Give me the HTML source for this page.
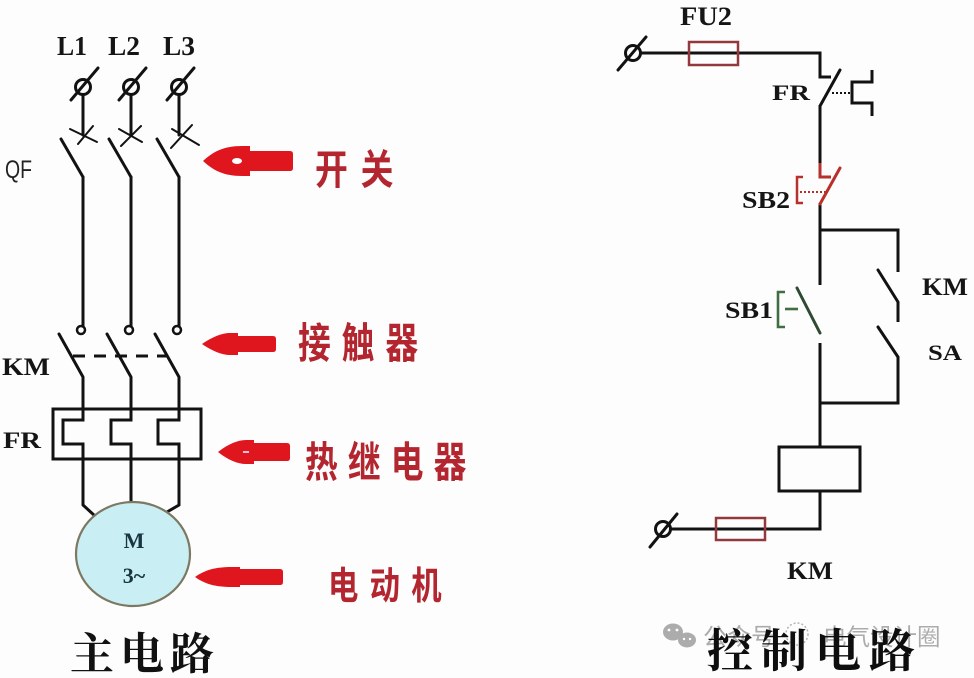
<!DOCTYPE html>
<html>
<head>
<meta charset="utf-8">
<style>
html,body{margin:0;padding:0;background:#fff;}
svg{display:block;}
.ser{font-family:"Liberation Serif","Noto Serif CJK SC",serif;font-weight:bold;fill:#151515;}
.red{font-family:"Liberation Sans","Noto Sans CJK SC",sans-serif;font-weight:bold;fill:#b3262f;}
</style>
</head>
<body>
<svg width="974" height="678" viewBox="0 0 974 678" xmlns="http://www.w3.org/2000/svg">
<rect width="974" height="678" fill="#fdfdfd"/>

<!-- ============ MAIN CIRCUIT (left) ============ -->
<g fill="none" stroke="#121212" stroke-width="3" stroke-linecap="round">
  <circle cx="83" cy="87" r="7.5"/>
  <circle cx="131" cy="87" r="7.5"/>
  <circle cx="179" cy="87" r="7.5"/>
  <line x1="71" y1="100" x2="98" y2="68"/>
  <line x1="119" y1="100" x2="146" y2="68"/>
  <line x1="167" y1="100" x2="194" y2="68"/>
  <line x1="83" y1="95" x2="83" y2="135"/>
  <line x1="131" y1="95" x2="131" y2="135"/>
  <line x1="179" y1="95" x2="179" y2="135"/>
</g>
<g fill="none" stroke="#121212" stroke-width="2" stroke-linecap="round">
  <line x1="70" y1="129" x2="97" y2="142"/>
  <line x1="78" y1="144" x2="93" y2="126"/>
  <line x1="119" y1="129" x2="142" y2="142"/>
  <line x1="121" y1="146" x2="141" y2="126"/>
  <line x1="172" y1="129" x2="199" y2="145"/>
  <line x1="171" y1="148" x2="192" y2="125"/>
</g>
<g fill="none" stroke="#121212" stroke-width="3" stroke-linecap="round">
  <line x1="61" y1="139" x2="83" y2="177"/>
  <line x1="109" y1="139" x2="131" y2="177"/>
  <line x1="157" y1="139" x2="179" y2="177"/>
  <line x1="83" y1="177" x2="83" y2="326"/>
  <line x1="131" y1="177" x2="131" y2="326"/>
  <line x1="179" y1="177" x2="179" y2="326"/>
</g>
<g fill="none" stroke="#121212" stroke-width="2.5">
  <circle cx="81" cy="330" r="4"/>
  <circle cx="129" cy="330" r="4"/>
  <circle cx="177" cy="330" r="4"/>
</g>
<g fill="none" stroke="#121212" stroke-width="3" stroke-linecap="round">
  <line x1="59" y1="334" x2="83" y2="377"/>
  <line x1="107" y1="334" x2="131" y2="377"/>
  <line x1="155" y1="334" x2="179" y2="377"/>
  <path d="M83,377 V420 H63 V444 H83 V505 L95,516" stroke-linejoin="miter" stroke-linecap="butt"/>
  <path d="M131,377 V420 H111 V444 H131 V502" stroke-linejoin="miter" stroke-linecap="butt"/>
  <path d="M179,377 V420 H158 V444 H179 V505 L167,512" stroke-linejoin="miter" stroke-linecap="butt"/>
</g>
<line x1="73" y1="356" x2="168" y2="356" stroke="#121212" stroke-width="3" stroke-dasharray="12,9"/>
<rect x="53" y="409" width="148" height="50" fill="none" stroke="#121212" stroke-width="3"/>

<!-- Motor -->
<ellipse cx="133" cy="554" rx="57" ry="52" fill="#c9eef4" stroke="#7d7862" stroke-width="2.2"/>
<text x="134" y="548" class="ser" font-size="22" text-anchor="middle" style="fill:#1a3440">M</text>
<text x="134" y="583" class="ser" font-size="22" text-anchor="middle" style="fill:#1a3440">3~</text>

<!-- left labels -->
<text x="57" y="55" class="ser" font-size="27" textLength="30" lengthAdjust="spacingAndGlyphs">L1</text>
<text x="108" y="55" class="ser" font-size="27" textLength="32" lengthAdjust="spacingAndGlyphs">L2</text>
<text x="163" y="55" class="ser" font-size="27" textLength="32" lengthAdjust="spacingAndGlyphs">L3</text>
<text x="5" y="178" font-family="Liberation Sans, sans-serif" font-size="25" fill="#222" textLength="27" lengthAdjust="spacingAndGlyphs">QF</text>
<text x="2" y="375" class="ser" font-size="25" textLength="48" lengthAdjust="spacingAndGlyphs">KM</text>
<text x="3" y="448" class="ser" font-size="23" textLength="38" lengthAdjust="spacingAndGlyphs">FR</text>

<!-- red arrows -->
<g fill="#e0161e">
  <path d="M203,161 C213,152 223,146 242,146 L250,146 L250,151 L290,151 Q293,151 293,154 L293,168 Q293,171 290,171 L250,171 L250,176 L242,176 C223,176 213,170 203,161 Z"/>
  <path d="M202,344 C212,337 222,333 230,333 L238,333 L238,336 L273,336 Q276,336 276,339 L276,349 Q276,352 273,352 L238,352 L238,355 L230,355 C222,355 212,351 202,344 Z"/>
  <path d="M218,452 C228,444 238,440 246,440 L254,440 L254,443 L287,443 Q290,443 290,446 L290,458 Q290,461 287,461 L254,461 L254,464 L246,464 C238,464 228,460 218,452 Z"/>
  <path d="M195,577 C205,570 215,567 232,567 L240,567 L240,569 L280,569 Q283,569 283,572 L283,582 Q283,585 280,585 L240,585 L240,587 L232,587 C215,587 205,584 195,577 Z"/>
</g>
<ellipse cx="237" cy="161" rx="5" ry="3" fill="#fff"/>
<rect x="243" y="451" width="6" height="2" fill="#fbd"/>

<!-- red labels (condensed) -->
<text transform="translate(315,184) scale(0.8,1)" class="red" font-size="41" letter-spacing="16">开关</text>
<text transform="translate(298,358) scale(0.78,1)" class="red" font-size="42" letter-spacing="14">接触器</text>
<text transform="translate(305,477) scale(0.78,1)" class="red" font-size="42" letter-spacing="13">热继电器</text>
<text transform="translate(328,599) scale(0.8,1)" class="red" font-size="38" letter-spacing="14">电动机</text>

<!-- left title -->
<text x="70" y="669" font-family="Liberation Serif, 'Noto Serif CJK SC', serif" font-weight="bold" font-size="44" letter-spacing="6" fill="#111">主电路</text>

<!-- ============ CONTROL CIRCUIT (right) ============ -->
<g fill="none" stroke="#121212" stroke-width="3" stroke-linecap="butt" stroke-linejoin="miter">
  <circle cx="633" cy="53" r="7.5"/>
  <line x1="618" y1="70" x2="646" y2="37" stroke-linecap="round"/>
  <path d="M641,53 H820 V77 H831"/>
  <line x1="840" y1="70" x2="820" y2="106" stroke-linecap="round"/>
  <line x1="820" y1="105" x2="820" y2="163"/>
  <path d="M872,70 V82 H852 V103 H872 V116"/>
  <path d="M820,203 V285"/>
  <path d="M820,230 H898 V272"/>
  <path d="M898,302 V322"/>
  <path d="M898,357 V403 H820"/>
  <path d="M820,343 V447"/>
  <line x1="878" y1="270" x2="898" y2="302" stroke-linecap="round"/>
  <line x1="878" y1="327" x2="898" y2="357" stroke-linecap="round"/>
  <rect x="779" y="447" width="81" height="44"/>
  <path d="M820,491 V529 H671"/>
  <circle cx="663" cy="529" r="7.5"/>
  <line x1="650" y1="547" x2="677" y2="514" stroke-linecap="round"/>
</g>
<line x1="832" y1="93" x2="851" y2="93" stroke="#121212" stroke-width="2" stroke-dasharray="2,2"/>

<!-- SB2 (red) -->
<g fill="none" stroke="#b8302c" stroke-width="3" stroke-linecap="butt">
  <path d="M820,163 V177 H831"/>
  <line x1="840" y1="168" x2="820" y2="204" stroke-linecap="round"/>
  <path d="M803,177 H797 V203 H803" stroke-width="2.5"/>
</g>
<line x1="800" y1="192" x2="826" y2="192" stroke="#b8302c" stroke-width="2" stroke-dasharray="2,2"/>

<!-- SB1 (green) -->
<g fill="none" stroke="#3f6e42" stroke-width="2.6">
  <path d="M785,292 H778 V327 H785"/>
  <line x1="785" y1="309" x2="798" y2="309"/>
</g>
<line x1="797" y1="288" x2="820" y2="333" stroke="#2f4a33" stroke-width="3" stroke-linecap="round"/>

<!-- fuses -->
<rect x="689" y="42" width="49" height="23" fill="none" stroke="#93393d" stroke-width="2.5"/>
<rect x="716" y="518" width="49" height="22" fill="none" stroke="#93393d" stroke-width="2.5"/>

<!-- right labels -->
<text x="680" y="25" class="ser" font-size="26" textLength="52" lengthAdjust="spacingAndGlyphs">FU2</text>
<text x="772" y="100" class="ser" font-size="22" textLength="38" lengthAdjust="spacingAndGlyphs">FR</text>
<text x="742" y="208" class="ser" font-size="24" textLength="48" lengthAdjust="spacingAndGlyphs">SB2</text>
<text x="725" y="318" class="ser" font-size="23" textLength="48" lengthAdjust="spacingAndGlyphs">SB1</text>
<text x="922" y="295" class="ser" font-size="25" textLength="46" lengthAdjust="spacingAndGlyphs">KM</text>
<text x="928" y="360" class="ser" font-size="22" textLength="34" lengthAdjust="spacingAndGlyphs">SA</text>
<text x="787" y="579" class="ser" font-size="25" textLength="46" lengthAdjust="spacingAndGlyphs">KM</text>

<!-- watermark -->
<g fill="#acacac">
  <ellipse cx="673" cy="632" rx="10" ry="8.5"/>
  <ellipse cx="687" cy="640" rx="9" ry="7.5"/>
  <circle cx="669" cy="630" r="1.4" fill="#fff"/>
  <circle cx="677" cy="630" r="1.4" fill="#fff"/>
  <circle cx="684" cy="639" r="1.2" fill="#fff"/>
  <circle cx="690" cy="639" r="1.2" fill="#fff"/>
</g>
<text x="703" y="645" font-family="'Noto Sans CJK SC', sans-serif" font-size="24" fill="#acacac">公众号</text>
<circle cx="797" cy="634" r="11" fill="none" stroke="#b5b5b5" stroke-width="1.5" stroke-dasharray="2,2"/>
<text x="823" y="645" font-family="'Noto Sans CJK SC', sans-serif" font-size="23.5" fill="#acacac">电气设计圈</text>

<!-- right title -->
<text x="707" y="667" font-family="Liberation Serif, 'Noto Serif CJK SC', serif" font-weight="bold" font-size="46" letter-spacing="8" fill="#0e0e0e">控制电路</text>
</svg>
</body>
</html>
